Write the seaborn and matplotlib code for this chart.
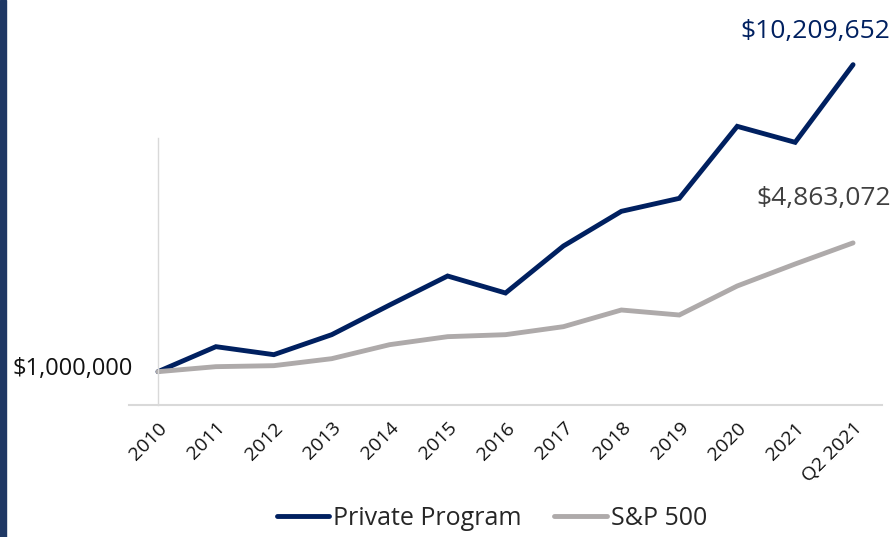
import pandas as pd
import seaborn as sns
import matplotlib.pyplot as plt
from matplotlib.patches import Rectangle

# Growth of $1,000,000
periods = ["2010", "2011", "2012", "2013", "2014", "2015", "2016",
           "2017", "2018", "2019", "2020", "2021", "Q2 2021"]
private_program = [1000000, 1750000, 1510000, 2110000, 3000000, 3870000, 3360000,
                   4770000, 5810000, 6200000, 8360000, 7880000, 10209652]
sp500 = [1000000, 1150000, 1180000, 1390000, 1810000, 2050000, 2110000,
         2350000, 2850000, 2700000, 3570000, 4230000, 4863072]
series_names = ["Private Program", "S&P 500"]
colors = ["#002060", "#AEAAAA"]

df = pd.DataFrame({
    "Period": periods * 2,
    "x": list(range(len(periods))) * 2,
    "Value": private_program + sp500,
    "Series": [series_names[0]] * len(periods) + [series_names[1]] * len(periods),
})

sns.set_style("white")
plt.rcParams["font.family"] = ["Open Sans", "DejaVu Sans"]

fig = plt.figure(figsize=(8.94, 5.37), dpi=100)
ax = fig.add_axes([0.1443, 0.2458, 0.8423, 0.6518])

sns.lineplot(data=df, x="x", y="Value", hue="Series", palette=colors,
             hue_order=series_names, linewidth=3.5, ax=ax, legend=False,
             solid_capstyle="round", solid_joinstyle="miter")
for line in ax.lines:
    line.set_clip_on(False)

ax.set_xlim(-0.5, len(periods) - 0.5)
ax.set_ylim(0, 10500000)
ax.set_xticks(range(len(periods)))
ax.set_xticklabels(periods, rotation=45, ha="right", va="top",
                   rotation_mode="anchor", fontsize=14, color="#111111")
ax.set_yticks([])
ax.tick_params(axis="x", length=0, pad=10)
ax.set_xlabel("")
ax.set_ylabel("")

for s in ["top", "right"]:
    ax.spines[s].set_visible(False)
ax.spines["bottom"].set_color("#D9D9D9")
ax.spines["bottom"].set_linewidth(1.5)
ax.spines["left"].set_position(("data", 0))
ax.spines["left"].set_bounds(0, 8000000)
ax.spines["left"].set_color("#D9D9D9")
ax.spines["left"].set_linewidth(1)

# labels
ax.annotate("$1,000,000", xy=(0, private_program[0]), xytext=(-18, 2),
            textcoords="offset points", ha="right", va="center",
            fontsize=17, color="#111111", annotation_clip=False)
ax.annotate("${:,}".format(private_program[-1]), xy=(len(periods) - 1, private_program[-1]),
            xytext=(27, 24), textcoords="offset points", ha="right", va="center",
            fontsize=19, color="#002060", annotation_clip=False)
ax.annotate("${:,}".format(sp500[-1]), xy=(len(periods) - 1, sp500[-1]),
            xytext=(27, 32), textcoords="offset points", ha="right", va="center",
            fontsize=19, color="#404040", annotation_clip=False)

# legend
handles = [plt.Line2D([], [], color=c, linewidth=3.5, solid_capstyle="round") for c in colors]
fig.legend(handles, series_names, loc="center", bbox_to_anchor=(0.55, 0.035),
           ncol=2, frameon=False, fontsize=18, handlelength=2.1,
           handletextpad=0.16, columnspacing=1.3)

# dark strip on left edge
fig.patches.append(Rectangle((0, 0), 0.0067, 1, transform=fig.transFigure,
                             color="#1F3864", zorder=10))

fig.savefig("out.png", dpi=100)
